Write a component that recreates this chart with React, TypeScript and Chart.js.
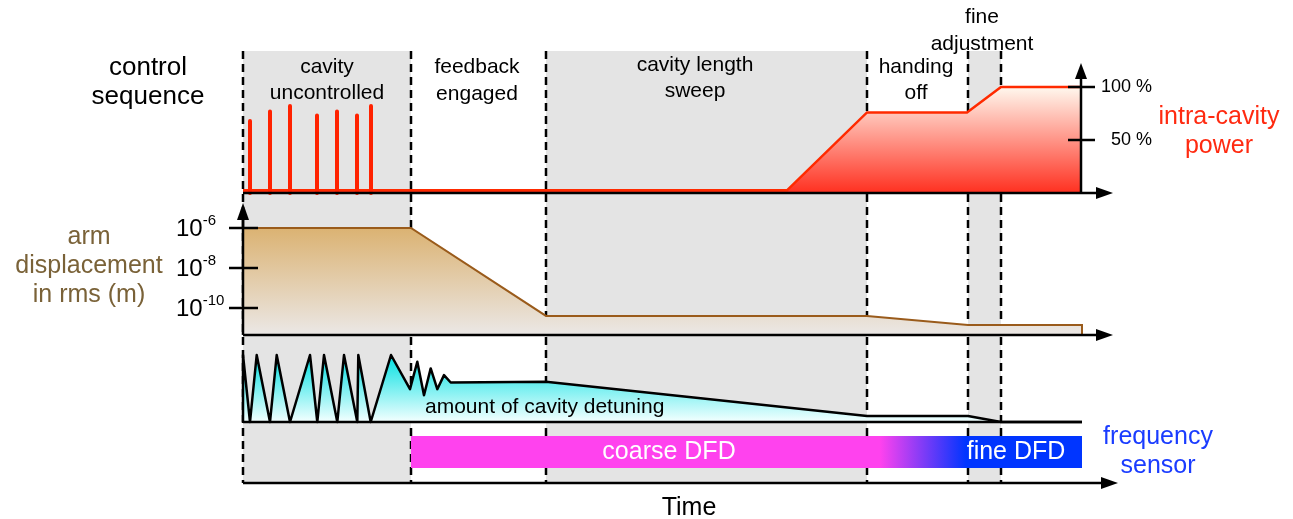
import React, { useEffect, useRef } from 'react';
import { Chart, registerables } from 'chart.js';

Chart.register(...registerables);

const W = 1293;
const H = 519;
const FONT = "'Liberation Sans', Arial, Helvetica, sans-serif";

// ---- time axis (arbitrary time units) ----
const phaseEdges = [0, 16.8, 30.3, 62.4, 72.5, 75.8];
const shadedPhases = [0, 2, 4];
const timeEnd = 83.9;
const phaseLabels = [
  ['cavity', 'uncontrolled'],
  ['feedback', 'engaged'],
  ['cavity length', 'sweep'],
  ['handing', 'off'],
  ['fine', 'adjustment'],
];
const phaseLabelT = [8.4, 23.4, 45.2, 67.3, 73.9];

// ---- intra-cavity power (%) ----
const powerT = [0, 54.4, 62.4, 72.4, 75.8, 83.8];
const powerPct = [2.5, 2.5, 76, 76, 100, 100];
const spikeT = [0.7, 2.7, 4.7, 7.4, 9.4, 11.4, 12.8];
const spikePct = [68, 77, 82, 73, 77, 73, 82];
const powerTicks = [50, 100];
const powerTickLabels = ['50 %', '100 %'];

// ---- arm displacement (m, rms) ----
const dispT = [0, 16.8, 30.3, 62.4, 72.5, 83.9, 83.9];
const dispM = [1e-6, 1e-6, 4e-11, 4e-11, 1.4e-11, 1.4e-11, 4.5e-12];
const dispFloor = 4.5e-12;
const dispTicks = [1e-6, 1e-8, 1e-10];
const dispTickExp = ['-6', '-8', '-10'];

// ---- amount of cavity detuning (arb. units) ----
const detuneT = [0, 0, 0.7, 1.37, 2.7, 3.37, 4.7, 6.7, 7.43, 8.1, 9.43, 10.1, 11.43, 11.53, 12.77, 14.8, 16.7, 17.43, 18.1, 18.77, 19.43, 20.1, 20.77, 30.3, 62.4, 72.5, 75.8, 83.9];
const detuneV = [0, 100, 0, 100, 0, 100, 0, 100, 0, 100, 0, 100, 0, 100, 0, 100, 49, 90, 40, 80, 49, 70, 59, 60, 9, 9, 0, 0];

// ---- frequency sensor ----
const sensorT = [16.8, 83.9];
const sensorOn = [1, 1];
const coarseEndT = 63.7;
const fineStartT = 72.3;
const sensorLabels = ['coarse DFD', 'fine DFD'];
const sensorLabelT = [42.6, 77.3];

// map two (pixel, value) anchors onto a scale spanning the full canvas height
function span(pxA: number, vA: number, pxB: number, vB: number, size = H) {
  const b = (pxB - pxA) / (vB - vA);
  const v0 = vA + (0 - pxA) / b;
  const v1 = vA + (size - pxA) / b;
  return { min: Math.min(v0, v1), max: Math.max(v0, v1) };
}
const xSpan = span(243, 0, 1081, 83.8, W);
const pSpan = span(193, 0, 87, 100);
const dLog = span(228, -6, 268, -8);
const tSpan = span(422, 0, 355, 100);
const sSpan = span(468, 0, 436, 1);

function arrow(ctx: CanvasRenderingContext2D, x1: number, y1: number, x2: number, y2: number, len = 17, hw = 6) {
  const a = Math.atan2(y2 - y1, x2 - x1);
  const bx = x2 - len * Math.cos(a);
  const by = y2 - len * Math.sin(a);
  ctx.beginPath();
  ctx.moveTo(x1, y1);
  ctx.lineTo(bx, by);
  ctx.stroke();
  ctx.beginPath();
  ctx.moveTo(x2, y2);
  ctx.lineTo(bx + hw * Math.sin(a), by - hw * Math.cos(a));
  ctx.lineTo(bx - hw * Math.sin(a), by + hw * Math.cos(a));
  ctx.closePath();
  ctx.fill();
}
function seg(ctx: CanvasRenderingContext2D, x1: number, y1: number, x2: number, y2: number) {
  ctx.beginPath();
  ctx.moveTo(x1, y1);
  ctx.lineTo(x2, y2);
  ctx.stroke();
}
function txt(ctx: CanvasRenderingContext2D, s: string, x: number, y: number, size: number, color: string, align: CanvasTextAlign = 'center') {
  ctx.font = `${size}px ${FONT}`;
  ctx.fillStyle = color;
  ctx.textAlign = align;
  ctx.textBaseline = 'middle';
  ctx.fillText(s, x, y);
}

const diagramPlugin = {
  id: 'diagram',
  beforeDatasetsDraw(chart: any) {
    const { ctx } = chart;
    const xs = chart.scales.x;
    ctx.save();
    ctx.fillStyle = '#e4e4e4';
    shadedPhases.forEach((i) => {
      const x0 = xs.getPixelForValue(phaseEdges[i]);
      const x1 = xs.getPixelForValue(phaseEdges[i + 1]);
      ctx.fillRect(x0, 51, x1 - x0, 482 - 51);
    });
    ctx.strokeStyle = '#000';
    ctx.lineWidth = 2.5;
    ctx.setLineDash([8, 5]);
    phaseEdges.forEach((t) => {
      const px = Math.round(xs.getPixelForValue(t));
      seg(ctx, px, 51, px, 483);
    });
    ctx.restore();
  },
  afterDatasetsDraw(chart: any) {
    const { ctx } = chart;
    const xs = chart.scales.x;
    const yP = chart.scales.yP;
    const yD = chart.scales.yD;
    const yT = chart.scales.yT;
    const X = (t: number) => xs.getPixelForValue(t);
    ctx.save();
    ctx.setLineDash([]);
    ctx.strokeStyle = '#000';
    ctx.fillStyle = '#000';
    ctx.lineWidth = 2.5;

    // power panel axes
    const p0 = yP.getPixelForValue(0);
    const pa = X(83.8);
    arrow(ctx, X(0), p0, 1113, p0);
    arrow(ctx, pa, p0, pa, 63, 16, 6);
    powerTicks.forEach((v, i) => {
      const y = yP.getPixelForValue(v);
      ctx.strokeStyle = '#000';
      seg(ctx, pa - 13, y, pa + 14, y);
      txt(ctx, powerTickLabels[i], 1152, y, 18, '#000', 'right');
    });

    // displacement panel axes
    const d0 = yD.getPixelForValue(dispFloor);
    ctx.fillStyle = '#000';
    arrow(ctx, X(0), d0, 1113, d0);
    arrow(ctx, X(0), d0, X(0), 203, 17, 6);
    dispTicks.forEach((v, i) => {
      const y = yD.getPixelForValue(v);
      ctx.strokeStyle = '#000';
      seg(ctx, 229, y, 258, y);
      txt(ctx, '10', 176, y + 1, 24, '#000', 'left');
      const w = ctx.measureText('10').width;
      txt(ctx, dispTickExp[i], 176 + w, y - 7, 15, '#000', 'left');
    });

    // detuning baseline
    ctx.strokeStyle = '#000';
    const t0 = yT.getPixelForValue(0);
    seg(ctx, X(0), t0, X(timeEnd), t0);

    // time axis
    ctx.fillStyle = '#000';
    arrow(ctx, X(0), 483, 1118, 483);

    // labels
    txt(ctx, 'control', 148, 68, 26, '#000');
    txt(ctx, 'sequence', 148, 97, 26, '#000');
    const l1 = [67, 67, 65, 67, 17];
    const l2 = [93, 94, 91, 93, 44];
    phaseLabels.forEach((ls, i) => {
      txt(ctx, ls[0], X(phaseLabelT[i]), l1[i], 21, '#000');
      txt(ctx, ls[1], X(phaseLabelT[i]), l2[i], 21, '#000');
    });
    txt(ctx, 'intra-cavity', 1219, 117, 25, '#ff2a10');
    txt(ctx, 'power', 1219, 146, 25, '#ff2a10');
    txt(ctx, 'arm', 89, 237, 25, '#7a6238');
    txt(ctx, 'displacement', 89, 266, 25, '#7a6238');
    txt(ctx, 'in rms (m)', 89, 295, 25, '#7a6238');
    txt(ctx, 'frequency', 1158, 437, 25, '#1a3cff');
    txt(ctx, 'sensor', 1158, 466, 25, '#1a3cff');
    txt(ctx, 'amount of cavity detuning', X(18.2), 407, 21, '#000', 'left');
    sensorLabels.forEach((s, i) => txt(ctx, s, X(sensorLabelT[i]), 452, 25, '#fff'));
    txt(ctx, 'Time', 689, 508, 25, '#000');
    ctx.restore();
  },
};

function vGrad(chart: any, scaleId: string, topV: number, botV: number, stops: [number, string][]) {
  const { ctx, chartArea } = chart;
  const sc = chart.scales[scaleId];
  if (!chartArea || !sc) return 'rgba(0,0,0,0)';
  const g = ctx.createLinearGradient(0, sc.getPixelForValue(topV), 0, sc.getPixelForValue(botV));
  stops.forEach(([o, c]) => g.addColorStop(o, c));
  return g;
}

export default function App() {
  const ref = useRef<HTMLCanvasElement>(null);
  useEffect(() => {
    document.documentElement.style.margin = '0';
    document.body.style.margin = '0';
    document.body.style.overflow = 'hidden';
    const pts = (xs: number[], ys: number[]) => xs.map((x, i) => ({ x, y: ys[i] }));
    const spikes: any[] = [];
    spikeT.forEach((t, i) => {
      spikes.push({ x: t, y: 0 }, { x: t, y: spikePct[i] }, { x: t, y: null });
    });
    const chart = new Chart(ref.current as HTMLCanvasElement, {
      type: 'line',
      data: {
        datasets: [
          {
            label: 'spikes',
            data: spikes,
            yAxisID: 'yP',
            borderColor: '#ff2200',
            borderWidth: 4,
            borderCapStyle: 'round',
            fill: false,
            spanGaps: false,
            order: 1,
          } as any,
          {
            label: 'intra-cavity power',
            data: pts(powerT, powerPct),
            yAxisID: 'yP',
            borderColor: '#ff2a00',
            borderWidth: 2.5,
            fill: { value: 0 },
            backgroundColor: (c: any) => vGrad(c.chart, 'yP', 100, 0, [[0, '#fff8ee'], [1, '#ff3020']]),
            order: 2,
          },
          {
            label: 'arm displacement',
            data: pts(dispT, dispM),
            yAxisID: 'yD',
            borderColor: '#9a5b1b',
            borderWidth: 2,
            fill: { value: dispFloor },
            backgroundColor: (c: any) => vGrad(c.chart, 'yD', 1e-6, dispFloor, [[0, '#dbb272'], [1, '#ebe8e6']]),
            order: 3,
          },
          {
            label: 'cavity detuning',
            data: pts(detuneT, detuneV),
            yAxisID: 'yT',
            borderColor: '#000',
            borderWidth: 2.5,
            borderJoinStyle: 'round',
            fill: { value: 0 },
            backgroundColor: (c: any) => vGrad(c.chart, 'yT', 100, 0, [[0, '#00e0e2'], [1, '#f4ffff']]),
            order: 4,
          },
          {
            label: 'frequency sensor',
            data: pts(sensorT, sensorOn),
            yAxisID: 'yS',
            borderColor: 'rgba(0,0,0,0)',
            borderWidth: 0,
            fill: { value: 0 },
            backgroundColor: (c: any) => {
              const { ctx, chartArea, scales } = c.chart;
              if (!chartArea) return 'rgba(0,0,0,0)';
              const x = scales.x;
              const a = x.getPixelForValue(sensorT[0]);
              const b = x.getPixelForValue(sensorT[1]);
              const g = ctx.createLinearGradient(a, 0, b, 0);
              g.addColorStop(0, '#ff42ee');
              g.addColorStop((x.getPixelForValue(coarseEndT) - a) / (b - a), '#ff42ee');
              g.addColorStop((x.getPixelForValue(fineStartT) - a) / (b - a), '#0035ff');
              g.addColorStop(1, '#0035ff');
              return g;
            },
            order: 5,
          },
        ],
      },
      options: {
        responsive: true,
        maintainAspectRatio: false,
        animation: false,
        events: [],
        layout: { padding: 0 },
        elements: { point: { radius: 0 }, line: { tension: 0 } },
        plugins: { legend: { display: false }, tooltip: { enabled: false } },
        scales: {
          x: { type: 'linear', display: false, min: xSpan.min, max: xSpan.max, bounds: 'data', offset: false },
          yP: { type: 'linear', display: false, min: pSpan.min, max: pSpan.max, bounds: 'data' },
          yD: { type: 'logarithmic', display: false, min: Math.pow(10, dLog.min), max: Math.pow(10, dLog.max), bounds: 'data' },
          yT: { type: 'linear', display: false, min: tSpan.min, max: tSpan.max, bounds: 'data' },
          yS: { type: 'linear', display: false, min: sSpan.min, max: sSpan.max, bounds: 'data' },
        },
      } as any,
      plugins: [diagramPlugin],
    });
    return () => chart.destroy();
  }, []);
  return (
    <div style={{ position: 'relative', width: W, height: H }}>
      <canvas ref={ref} />
    </div>
  );
}
